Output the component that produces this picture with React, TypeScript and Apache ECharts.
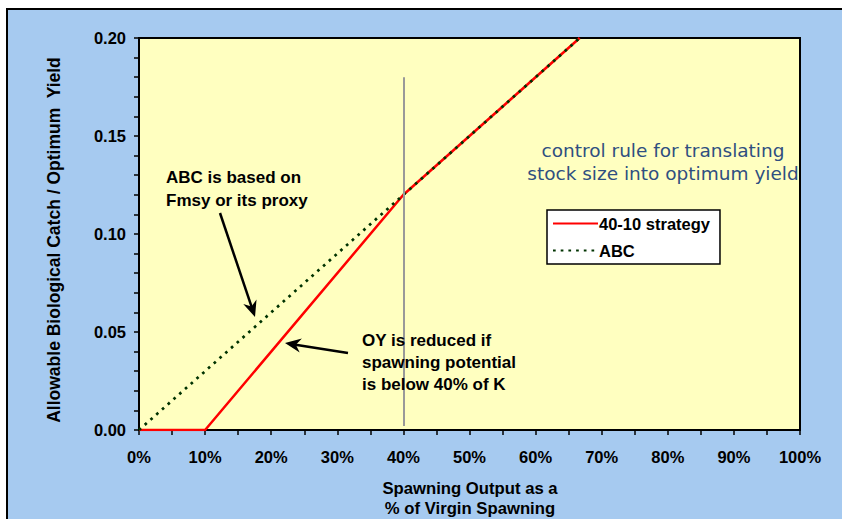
import React, { useEffect, useRef } from "react";
import * as echarts from "echarts";

// Data
const spawningPct = [0, 10, 40, 66.67];
const strategy4010 = [0, 0, 0.12, 0.2];
const abcPct = [0, 66.67];
const abcValues = [0, 0.2];
const refLinePct = 40;
const refLineRange = [0.002, 0.18];
const seriesNames = ["40-10 strategy", "ABC"];

const BOLD = "bold";
const FONT = "'Liberation Sans', Arial, sans-serif";

function arrow(x1: number, y1: number, x2: number, y2: number) {
  const dx = x2 - x1;
  const dy = y2 - y1;
  const len = Math.sqrt(dx * dx + dy * dy);
  const ux = dx / len;
  const uy = dy / len;
  const hl = 16;
  const hw = 7;
  const bx = x2 - ux * hl;
  const by = y2 - uy * hl;
  const px = -uy;
  const py = ux;
  return [
    {
      type: "line",
      shape: { x1, y1, x2: x2 - ux * 9, y2: y2 - uy * 9 },
      style: { stroke: "#000", lineWidth: 2.5 },
      z: 50,
    },
    {
      type: "polygon",
      shape: {
        points: [
          [x2, y2],
          [bx + px * hw, by + py * hw],
          [x2 - ux * 11, y2 - uy * 11],
          [bx - px * hw, by - py * hw],
        ],
      },
      style: { fill: "#000" },
      z: 50,
    },
  ];
}

export default function App() {
  const ref = useRef<HTMLDivElement>(null);
  useEffect(() => {
    if (!ref.current) return;
    const chart = echarts.init(ref.current, null, { renderer: "svg" });
    const labelStyle = { color: "#000", fontWeight: BOLD, fontSize: 16.5, fontFamily: FONT };
    chart.setOption({
      animation: false,
      backgroundColor: "#a6caf0",
      grid: {
        left: 139,
        top: 38,
        width: 661,
        height: 392,
        show: true,
        backgroundColor: "#ffffc0",
        borderColor: "#000",
        borderWidth: 2,
      },
      legend: {
        data: seriesNames,
        orient: "vertical",
        left: 547,
        top: 210,
        backgroundColor: "#fff",
        borderColor: "#000",
        borderWidth: 1.5,
        borderRadius: 0,
        padding: [5, 10, 5, 5],
        itemWidth: 45,
        itemHeight: 14,
        itemGap: 10,
        itemStyle: { color: "transparent", borderWidth: 0, opacity: 0 },
        textStyle: { ...labelStyle, padding: [0, 0, 0, -4] },
      },
      xAxis: {
        type: "value",
        min: 0,
        max: 100,
        interval: 5,
        axisLine: { show: true, lineStyle: { color: "#000", width: 2 } },
        axisTick: { show: true, length: 5, lineStyle: { color: "#000", width: 1.5 } },
        splitLine: { show: false },
        axisLabel: {
          ...labelStyle,
          margin: 18,
          formatter: (v: number) => (Math.round(v) % 10 === 0 ? `${Math.round(v)}%` : ""),
        },
      },
      yAxis: {
        type: "value",
        min: 0,
        max: 0.2,
        interval: 0.01,
        axisLine: { show: true, lineStyle: { color: "#000", width: 2 } },
        axisTick: { show: true, length: 5, lineStyle: { color: "#000", width: 1.5 } },
        splitLine: { show: false },
        axisLabel: {
          ...labelStyle,
          margin: 13,
          formatter: (v: number) => (Math.round(v * 100) % 5 === 0 ? v.toFixed(2) : ""),
        },
      },
      series: [
        {
          name: seriesNames[0],
          type: "line",
          data: spawningPct.map((x, i) => [x, strategy4010[i]]),
          symbol: "none",
          lineStyle: { color: "#ff0000", width: 2.5 },
          itemStyle: { color: "#ff0000" },
          z: 3,
        },
        {
          name: seriesNames[1],
          type: "line",
          data: abcPct.map((x, i) => [x, abcValues[i]]),
          symbol: "none",
          lineStyle: { color: "#003300", width: 2.7, type: [2.7, 5] },
          itemStyle: { color: "#003300" },
          z: 4,
          markLine: {
            silent: true,
            symbol: "none",
            label: { show: false },
            lineStyle: { color: "#999999", width: 2, type: "solid" },
            data: [
              [
                { coord: [refLinePct, refLineRange[0]] },
                { coord: [refLinePct, refLineRange[1]] },
              ],
            ],
          },
        },
      ],
      graphic: [
        { type: "rect", shape: { x: 0, y: 0, width: 842, height: 8 }, style: { fill: "#fff" }, z: 100 },
        { type: "rect", shape: { x: 0, y: 0, width: 6, height: 519 }, style: { fill: "#fff" }, z: 100 },
        { type: "line", shape: { x1: 6, y1: 9, x2: 842, y2: 9 }, style: { stroke: "#000", lineWidth: 2 }, z: 101 },
        { type: "line", shape: { x1: 7, y1: 8, x2: 7, y2: 519 }, style: { stroke: "#000", lineWidth: 2 }, z: 101 },
        {
          type: "text",
          x: 54,
          y: 240,
          rotation: Math.PI / 2,
          style: {
            text: "Allowable Biological Catch / Optimum  Yield",
            fill: "#000",
            font: `bold 17.5px ${FONT}`,
            align: "center",
            verticalAlign: "middle",
          },
        },
        {
          type: "text",
          x: 470,
          y: 498,
          style: {
            text: "Spawning Output as a\n% of Virgin Spawning",
            fill: "#000",
            font: `bold 16.7px ${FONT}`,
            align: "center",
            verticalAlign: "middle",
            lineHeight: 20,
          },
        },
        {
          type: "text",
          x: 166,
          y: 188.5,
          style: {
            text: "ABC is based on\nFmsy or its proxy",
            fill: "#000",
            font: `bold 17px ${FONT}`,
            align: "left",
            verticalAlign: "middle",
            lineHeight: 23,
          },
          z: 50,
        },
        {
          type: "text",
          x: 362,
          y: 362,
          style: {
            text: "OY is reduced if\nspawning potential\nis below 40% of K",
            fill: "#000",
            font: `bold 17px ${FONT}`,
            align: "left",
            verticalAlign: "middle",
            lineHeight: 22,
          },
          z: 50,
        },
        {
          type: "text",
          x: 663,
          y: 161.5,
          style: {
            text: "control rule for translating\nstock size into optimum yield",
            fill: "#2f4f80",
            font: `18.5px 'DejaVu Sans', Tahoma, sans-serif`,
            align: "center",
            verticalAlign: "middle",
            lineHeight: 23,
          },
          z: 50,
        },
        ...arrow(220, 213, 255, 317),
        ...arrow(348, 353, 285, 343),
      ],
    });
    return () => chart.dispose();
  }, []);
  return (
    <div
      ref={ref}
      style={{ position: "absolute", left: 0, top: 0, width: 842, height: 519 }}
    />
  );
}
